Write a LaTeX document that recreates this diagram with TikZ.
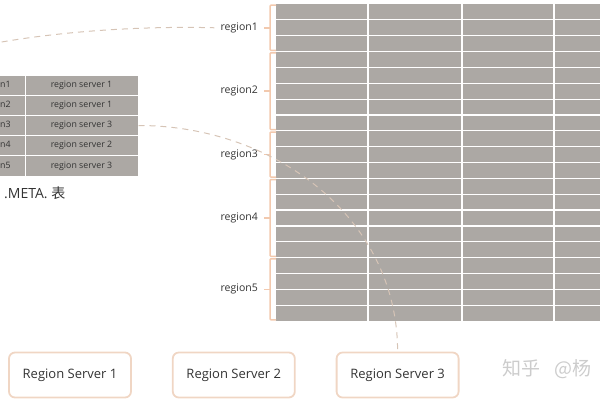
\documentclass[tikz,border=0pt]{standalone}
\usepackage{fontspec}
\setmainfont{Open Sans}
\newfontfamily\cjk{Noto Sans CJK SC}
\usetikzlibrary{positioning}
\definecolor{cellgray}{RGB}{172,168,164}
\definecolor{peach}{RGB}{242,201,174}
\definecolor{boxline}{RGB}{240,214,196}
\definecolor{linkline}{RGB}{214,196,182}
\definecolor{inkgray}{RGB}{51,51,51}

\begin{document}
\begin{tikzpicture}[
  x=1pt, y=-1pt,
  node distance=40pt,
  cell/.style={draw=white, line width=1pt, fill=cellgray, minimum height=20.2pt, inner sep=0pt, font=\fontsize{8.8}{10}\selectfont, text=inkgray},
  rsbox/.style={draw=boxline, line width=1.8pt, rounded corners=6pt, minimum width=122pt, minimum height=45pt, font=\fontsize{13}{15}\selectfont, text=inkgray},
  rlabel/.style={anchor=east, inner sep=0pt, font=\fontsize{10.5}{12}\selectfont, text=inkgray},
  brace/.style={draw=peach, line width=1.5pt, rounded corners=1pt},
  link/.style={draw=linkline, line width=1pt, dash pattern=on 6pt off 5pt}
]
\useasboundingbox (0,0) rectangle (600,400);
\clip (0,0) rectangle (600,400);

% region grid
\fill[cellgray] (276,4) rectangle (610,321);
\foreach \k in {1,...,19}
  \draw[white, line width=1.2pt] (276,4+15.85*\k) -- (610,4+15.85*\k);
\foreach \x in {368,462,554}
  \draw[white, line width=1.2pt] (\x,4) -- (\x,321);

% brackets and labels
\foreach \i/\a/\b in {1/0/3, 2/3/8, 3/8/11, 4/11/16, 5/16/20} {
  \pgfmathsetmacro\ya{4+15.85*\a+1.2}
  \pgfmathsetmacro\yb{4+15.85*\b-1.2}
  \pgfmathsetmacro\ym{(\ya+\yb)/2}
  \draw[brace] (276,\ya) -- (270,\ya) -- (270,\yb) -- (276,\yb);
  \draw[brace] (264,\ym) -- (270,\ym);
  \node[rlabel] (r\i) at (258,\ym) {region\i};
}

% .META. table
\foreach \i/\srv in {1/1, 2/1, 3/3, 4/2, 5/3} {
  \pgfmathsetmacro\yc{75+20.2*(\i-0.5)}
  \node[cell, minimum width=60pt] (key\i) at (-5,\yc) {region\i};
  \node[cell, minimum width=113pt] (meta\i) at (81.5,\yc) {region server \srv};
}
\node[anchor=west, inner sep=0pt, font=\fontsize{14}{16}\selectfont, text=inkgray] (metacap) at (4,193) {.META. {\cjk 表}};

% servers
\node[rsbox] (rs1) at (70,375) {Region Server 1};
\node[rsbox, right=of rs1] (rs2) {Region Server 2};
\node[rsbox, right=of rs2] (rs3) {Region Server 3};

\node[anchor=west, inner sep=0pt, font=\cjk\fontsize{19}{21}\selectfont, text=black!20] (mark) at (502,369) {知乎\hspace{14pt}@杨};

\coordinate (offleft) at (-20,46);
\draw[link] (offleft) .. controls (60,30) and (150,26) .. ([xshift=-6pt]r1.west);
\draw[link] (meta3.east) .. controls +(135,0) and +(0,-135) .. (rs3.north);
\end{tikzpicture}
\end{document}
